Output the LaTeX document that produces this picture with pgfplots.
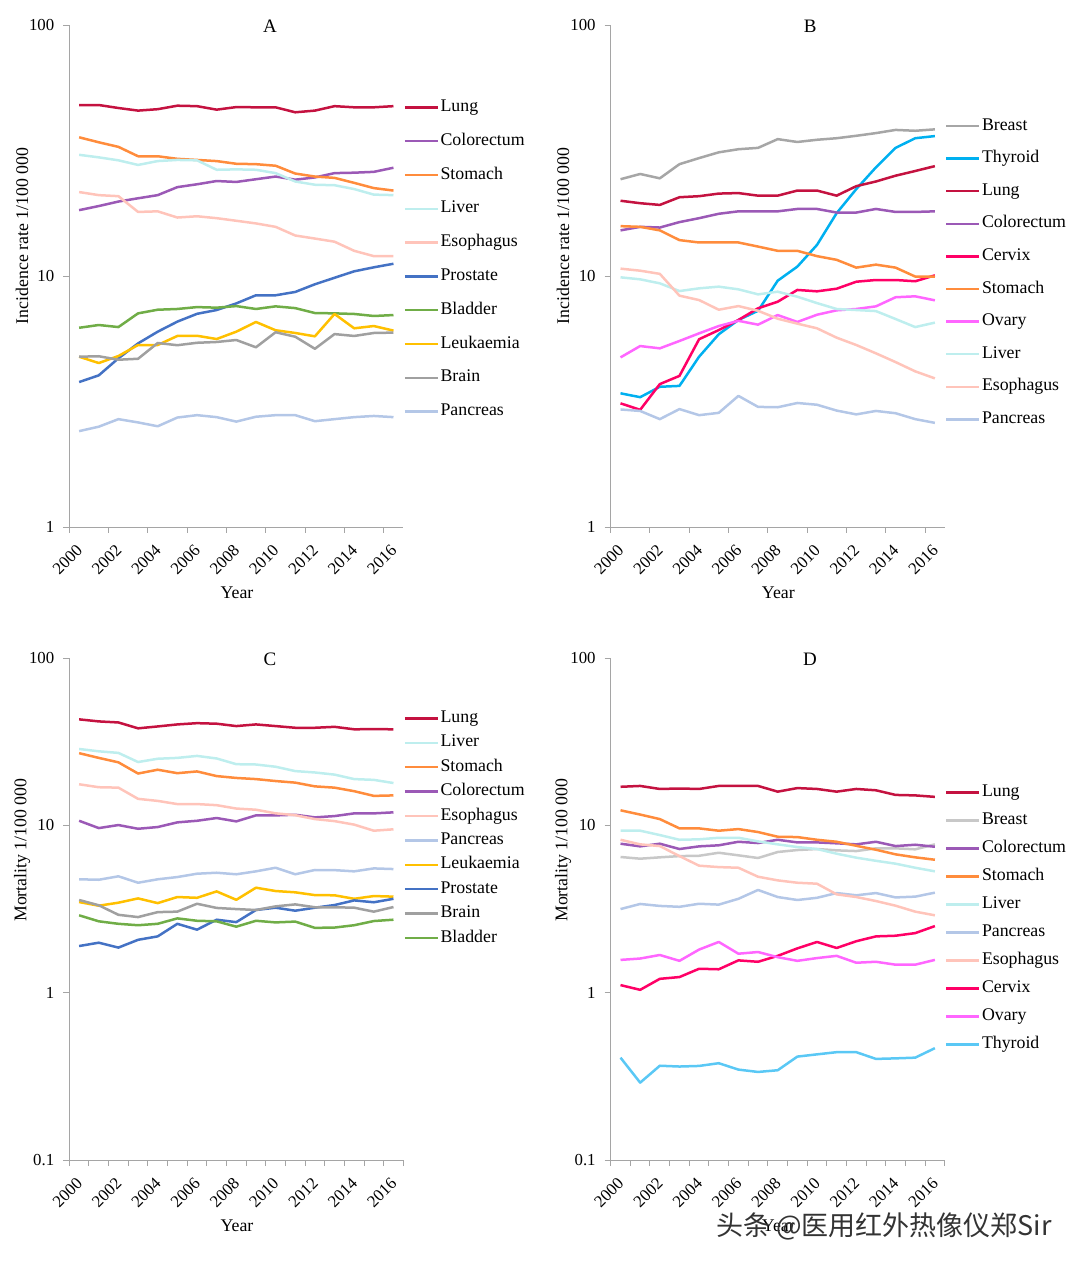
\documentclass[border=0pt]{standalone}
\usepackage{fontspec}
\setmainfont{Liberation Serif}
\newfontfamily\cjk{Noto Sans CJK SC}
\usepackage{pgfplots}
\usepackage{pgfplotstable}
\pgfplotsset{compat=1.18}

\definecolor{axisgray}{RGB}{165,165,165}
\definecolor{cLung}{RGB}{196,18,64}
\definecolor{cColo}{RGB}{155,89,182}
\definecolor{cStom}{RGB}{255,140,60}
\definecolor{cLiver}{RGB}{190,238,238}
\definecolor{cEso}{RGB}{255,196,186}
\definecolor{cPros}{RGB}{68,114,196}
\definecolor{cBlad}{RGB}{112,173,71}
\definecolor{cLeuk}{RGB}{255,192,0}
\definecolor{cBrain}{RGB}{160,160,160}
\definecolor{cPanc}{RGB}{180,199,231}
\definecolor{cBreast}{RGB}{166,166,166}
\definecolor{cBreastD}{RGB}{200,200,200}
\definecolor{cThy}{RGB}{0,176,240}
\definecolor{cThyD}{RGB}{90,200,245}
\definecolor{cCerv}{RGB}{255,0,102}
\definecolor{cOvary}{RGB}{255,102,255}

\pgfplotstableread{
year Lung Colo Stom Liver Eso Pros Blad Leuk Brain Panc
2000 48.0 18.3 35.7 30.4 21.6 3.78 6.22 4.77 4.77 2.41
2001 48.0 19.0 34.1 29.7 21.0 4.02 6.38 4.50 4.79 2.51
2002 46.7 19.8 32.7 28.9 20.8 4.70 6.26 4.80 4.64 2.69
2003 45.6 20.4 30.0 27.7 18.0 5.39 7.10 5.31 4.68 2.61
2004 46.2 21.0 30.0 28.7 18.1 6.00 7.34 5.31 5.41 2.52
2005 47.7 22.6 29.3 29.0 17.1 6.58 7.39 5.77 5.30 2.73
2006 47.5 23.2 29.0 28.9 17.3 7.07 7.52 5.78 5.42 2.79
2007 46.0 23.9 28.7 26.5 17.0 7.32 7.48 5.61 5.46 2.74
2008 47.1 23.7 28.0 26.6 16.6 7.78 7.59 6.00 5.56 2.63
2009 47.0 24.3 27.9 26.5 16.2 8.38 7.39 6.56 5.20 2.75
2010 47.0 24.9 27.5 25.7 15.7 8.38 7.57 6.08 5.97 2.79
2011 44.9 24.2 25.6 23.8 14.5 8.64 7.45 5.93 5.73 2.79
2012 45.6 24.7 24.9 23.1 14.1 9.27 7.12 5.75 5.13 2.64
2013 47.5 25.7 24.6 23.0 13.7 9.84 7.10 7.06 5.87 2.69
2014 47.0 25.8 23.5 22.2 12.6 10.44 7.06 6.19 5.77 2.74
2015 47.0 26.0 22.4 21.1 12.0 10.83 6.93 6.32 5.93 2.77
2016 47.5 27.0 21.9 21.0 12.0 11.19 6.99 6.06 5.95 2.74
}\tabA

\pgfplotstableread{
year Breast Thy Lung Colo Cerv Stom Ovary Liver Eso Panc
2000 24.3 3.41 19.95 15.2 3.11 15.8 4.74 9.88 10.7 2.94
2001 25.5 3.29 19.5 15.7 2.93 15.7 5.26 9.70 10.5 2.90
2002 24.5 3.62 19.2 15.6 3.71 15.2 5.15 9.35 10.2 2.69
2003 27.9 3.65 20.6 16.4 4.00 13.9 5.51 8.71 8.35 2.95
2004 29.5 4.77 20.8 17.0 5.60 13.6 5.91 8.93 8.02 2.79
2005 31.1 5.86 21.3 17.7 6.09 13.6 6.32 9.07 7.34 2.85
2006 32.0 6.68 21.4 18.1 6.68 13.6 6.63 8.85 7.59 3.33
2007 32.4 7.27 20.9 18.1 7.44 13.1 6.40 8.45 7.27 3.01
2008 35.1 9.58 20.9 18.1 7.90 12.6 6.99 8.66 6.76 3.00
2009 34.2 10.9 21.9 18.5 8.80 12.6 6.56 8.27 6.46 3.12
2010 34.9 13.3 21.9 18.5 8.69 12.0 7.01 7.80 6.19 3.07
2011 35.4 17.8 20.9 17.9 8.90 11.6 7.30 7.39 5.68 2.91
2012 36.2 22.2 22.8 17.9 9.49 10.8 7.39 7.32 5.31 2.81
2013 37.1 27.1 23.8 18.5 9.64 11.1 7.57 7.25 4.92 2.90
2014 38.2 32.4 25.1 18.0 9.64 10.8 8.23 6.74 4.54 2.84
2015 37.9 35.4 26.2 18.0 9.53 9.95 8.30 6.26 4.17 2.69
2016 38.4 36.1 27.4 18.1 10.06 9.95 8.00 6.52 3.91 2.60
}\tabB

\pgfplotstableread{
year Lung Liver Stom Colo Eso Panc Leuk Pros Brain Blad
2000 43.0 28.6 27.0 10.65 17.6 4.76 3.48 1.90 3.58 2.90
2001 41.8 27.7 25.3 9.63 16.9 4.73 3.31 1.99 3.33 2.67
2002 41.2 27.1 23.8 10.04 16.8 4.96 3.45 1.86 2.92 2.58
2003 38.0 23.9 20.4 9.54 14.4 4.54 3.66 2.07 2.83 2.53
2004 39.0 25.0 21.5 9.77 14.0 4.76 3.43 2.17 3.03 2.58
2005 40.1 25.3 20.5 10.42 13.4 4.91 3.73 2.58 3.05 2.78
2006 40.8 26.0 21.0 10.65 13.4 5.14 3.69 2.38 3.40 2.69
2007 40.5 25.1 19.7 11.06 13.2 5.21 4.03 2.73 3.21 2.67
2008 39.2 23.2 19.2 10.56 12.6 5.10 3.59 2.64 3.16 2.48
2009 40.1 23.1 18.9 11.47 12.4 5.31 4.24 3.12 3.12 2.69
2010 39.2 22.4 18.4 11.47 11.8 5.58 4.05 3.22 3.28 2.63
2011 38.3 21.1 18.0 11.57 11.5 5.10 3.98 3.09 3.37 2.66
2012 38.3 20.7 17.1 11.16 10.9 5.41 3.83 3.22 3.24 2.44
2013 38.8 20.1 16.8 11.36 10.6 5.40 3.82 3.34 3.24 2.45
2014 37.5 18.9 16.0 11.79 10.1 5.31 3.64 3.56 3.22 2.53
2015 37.6 18.7 15.0 11.79 9.29 5.53 3.78 3.47 3.05 2.68
2016 37.5 17.9 15.1 11.96 9.47 5.48 3.75 3.64 3.25 2.73
}\tabC

\pgfplotstableread{
year Lung Breast Colo Stom Liver Panc Eso Cerv Ovary Thy
2000 17.0 6.47 7.77 12.3 9.29 3.16 8.20 1.11 1.57 0.409
2001 17.2 6.32 7.49 11.6 9.29 3.39 7.70 1.04 1.60 0.290
2002 16.5 6.44 7.77 10.9 8.75 3.30 7.52 1.21 1.68 0.366
2003 16.6 6.55 7.22 9.59 8.20 3.26 6.55 1.24 1.55 0.362
2004 16.5 6.58 7.49 9.59 8.25 3.40 5.74 1.39 1.81 0.365
2005 17.2 6.86 7.60 9.29 8.43 3.36 5.63 1.38 2.01 0.379
2006 17.2 6.62 7.98 9.50 8.43 3.64 5.58 1.56 1.71 0.347
2007 17.2 6.38 7.84 9.12 8.02 4.11 4.93 1.53 1.75 0.336
2008 15.9 6.93 8.20 8.55 7.70 3.73 4.69 1.66 1.63 0.344
2009 16.7 7.12 7.91 8.51 7.42 3.58 4.54 1.84 1.55 0.415
2010 16.5 7.22 7.91 8.20 7.22 3.69 4.48 2.01 1.61 0.428
2011 15.9 7.09 7.81 7.98 6.77 3.94 3.87 1.85 1.66 0.441
2012 16.5 7.02 7.70 7.55 6.41 3.82 3.73 2.03 1.51 0.441
2013 16.2 7.29 7.98 7.15 6.14 3.94 3.53 2.17 1.53 0.402
2014 15.2 7.29 7.52 6.71 5.90 3.71 3.31 2.19 1.47 0.405
2015 15.1 7.19 7.66 6.44 5.58 3.75 3.05 2.27 1.47 0.409
2016 14.8 7.70 7.45 6.23 5.31 3.96 2.90 2.50 1.57 0.466
}\tabD

\pgfplotsset{
  every axis title shift=0pt,
  panel/.style={
    scale only axis, width=167pt, height=251pt,
    xmin=1999.5, xmax=2016.5,
    xtick={2000,2002,...,2016},
    xticklabels={2000,2002,2004,2006,2008,2010,2012,2014,2016},
    major x tick style={draw=none},
    minor x tick style={draw=axisgray, line width=0.5pt},
    major y tick style={draw=axisgray, line width=0.5pt},
    tick align=outside, major tick length=3pt, minor tick length=3pt,
    axis lines*=left,
    axis line style={-, draw=axisgray, line width=0.5pt},
    /pgf/number format/assume math mode=true,
    tick label style={font=\fontsize{8.4}{10}\selectfont},
    yticklabel style={xshift=-1pt},
    xticklabel style={rotate=45, anchor=east, xshift=-1.63pt, yshift=-5.3pt, font=\fontsize{8.4}{10}\selectfont},
    label style={font=\fontsize{8.9}{10}\selectfont},
    xlabel={Year},
    xlabel style={at={(axis description cs:0.502,-0.1315)}, anchor=center},
    title style={anchor=center, yshift=-0.5pt, font=\fontsize{9.5}{11}\selectfont},
    every axis plot/.append style={line width=1.25pt, line join=round, no markers},
    legend cell align=left,
    legend image code/.code={\draw[##1,line width=1.25pt] (0pt,0pt) -- (16.5pt,0pt);},
    legend style={draw=none, fill=none, inner sep=0pt, anchor=north west,
      font=\fontsize{8.9}{10}\selectfont,
      nodes={inner sep=0pt, text height=6pt, text depth=2pt},
      /tikz/every odd column/.append style={column sep=0.7pt}},
  },
  ticks2/.style={minor xtick={1999.5,2001.5,...,2015.5}},
  ticks1/.style={minor xtick={1999.5,2000.5,...,2016.5}},
}

\begin{document}
\begin{tikzpicture}
\useasboundingbox (0,0) rectangle (540pt,-632.5pt);

% Panel A
\begin{axis}[ymode=log, yminorticks=false, panel, ticks2, at={(34.65pt,-263.5pt)}, anchor=south west,
  ymin=1, ymax=100, ytick={1,10,100}, yticklabels={1,10,100},
  title={A}, title style={at={(axis description cs:0.601,1)}},
  ylabel={Incidence rate 1/100 000},
  ylabel style={at={(axis description cs:-0.1416,0.58)}, anchor=center},
  legend style={at={(axis description cs:1,0.8526)}, row sep=8.9pt}]
\addplot[cLung] table[x=year,y=Lung]{\tabA};
\addplot[cColo] table[x=year,y=Colo]{\tabA};
\addplot[cStom] table[x=year,y=Stom]{\tabA};
\addplot[cLiver] table[x=year,y=Liver]{\tabA};
\addplot[cEso] table[x=year,y=Eso]{\tabA};
\addplot[cPros] table[x=year,y=Pros]{\tabA};
\addplot[cBlad] table[x=year,y=Blad]{\tabA};
\addplot[cLeuk] table[x=year,y=Leuk]{\tabA};
\addplot[cBrain] table[x=year,y=Brain]{\tabA};
\addplot[cPanc] table[x=year,y=Panc]{\tabA};
\legend{Lung,Colorectum,Stomach,Liver,Esophagus,Prostate,Bladder,Leukaemia,Brain,Pancreas}
\end{axis}

% Panel B
\begin{axis}[ymode=log, yminorticks=false, panel, ticks2, at={(305.35pt,-263.5pt)}, anchor=south west,
  ymin=1, ymax=100, ytick={1,10,100}, yticklabels={1,10,100},
  title={B}, title style={at={(axis description cs:0.597,1)}},
  ylabel={Incidence rate 1/100 000},
  ylabel style={at={(axis description cs:-0.1428,0.58)}, anchor=center},
  legend style={at={(axis description cs:1,0.8155)}, row sep=8.3pt}]
\addplot[cBreast] table[x=year,y=Breast]{\tabB};
\addplot[cThy] table[x=year,y=Thy]{\tabB};
\addplot[cLung] table[x=year,y=Lung]{\tabB};
\addplot[cColo] table[x=year,y=Colo]{\tabB};
\addplot[cCerv] table[x=year,y=Cerv]{\tabB};
\addplot[cStom] table[x=year,y=Stom]{\tabB};
\addplot[cOvary] table[x=year,y=Ovary]{\tabB};
\addplot[cLiver] table[x=year,y=Liver]{\tabB};
\addplot[cEso] table[x=year,y=Eso]{\tabB};
\addplot[cPanc] table[x=year,y=Panc]{\tabB};
\legend{Breast,Thyroid,Lung,Colorectum,Cervix,Stomach,Ovary,Liver,Esophagus,Pancreas}
\end{axis}

% Panel C
\begin{axis}[ymode=log, yminorticks=false, panel, ticks1, at={(34.65pt,-580pt)}, anchor=south west,
  ymin=0.1, ymax=100, ytick={0.1,1,10,100}, yticklabels={0.1,1,10,100},
  title={C}, title style={at={(axis description cs:0.601,1)}},
  ylabel={Mortality 1/100 000},
  ylabel style={at={(axis description cs:-0.1416,0.6175)}, anchor=center},
  legend style={at={(axis description cs:1,0.8964)}, row sep=4.2pt}]
\addplot[cLung] table[x=year,y=Lung]{\tabC};
\addplot[cLiver] table[x=year,y=Liver]{\tabC};
\addplot[cStom] table[x=year,y=Stom]{\tabC};
\addplot[cColo] table[x=year,y=Colo]{\tabC};
\addplot[cEso] table[x=year,y=Eso]{\tabC};
\addplot[cPanc] table[x=year,y=Panc]{\tabC};
\addplot[cLeuk] table[x=year,y=Leuk]{\tabC};
\addplot[cPros] table[x=year,y=Pros]{\tabC};
\addplot[cBrain] table[x=year,y=Brain]{\tabC};
\addplot[cBlad] table[x=year,y=Blad]{\tabC};
\legend{Lung,Liver,Stomach,Colorectum,Esophagus,Pancreas,Leukaemia,Prostate,Brain,Bladder}
\end{axis}

% Panel D
\begin{axis}[ymode=log, yminorticks=false, panel, ticks1, at={(305.35pt,-580pt)}, anchor=south west,
  ymin=0.1, ymax=100, ytick={0.1,1,10,100}, yticklabels={0.1,1,10,100},
  title={D}, title style={at={(axis description cs:0.597,1)}},
  ylabel={Mortality 1/100 000},
  ylabel style={at={(axis description cs:-0.1428,0.6175)}, anchor=center},
  legend style={at={(axis description cs:1,0.749)}, row sep=6pt}]
\addplot[cLung] table[x=year,y=Lung]{\tabD};
\addplot[cBreastD] table[x=year,y=Breast]{\tabD};
\addplot[cColo] table[x=year,y=Colo]{\tabD};
\addplot[cStom] table[x=year,y=Stom]{\tabD};
\addplot[cLiver] table[x=year,y=Liver]{\tabD};
\addplot[cPanc] table[x=year,y=Panc]{\tabD};
\addplot[cEso] table[x=year,y=Eso]{\tabD};
\addplot[cCerv] table[x=year,y=Cerv]{\tabD};
\addplot[cOvary] table[x=year,y=Ovary]{\tabD};
\addplot[cThyD] table[x=year,y=Thy]{\tabD};
\legend{Lung,Breast,Colorectum,Stomach,Liver,Pancreas,Esophagus,Cervix,Ovary,Thyroid}
\end{axis}

\node[font=\cjk\fontsize{13.5}{15}\selectfont, text=black!80, anchor=center] at (442pt,-613pt) {头条 @医用红外热像仪郑Sir};
\end{tikzpicture}
\end{document}
